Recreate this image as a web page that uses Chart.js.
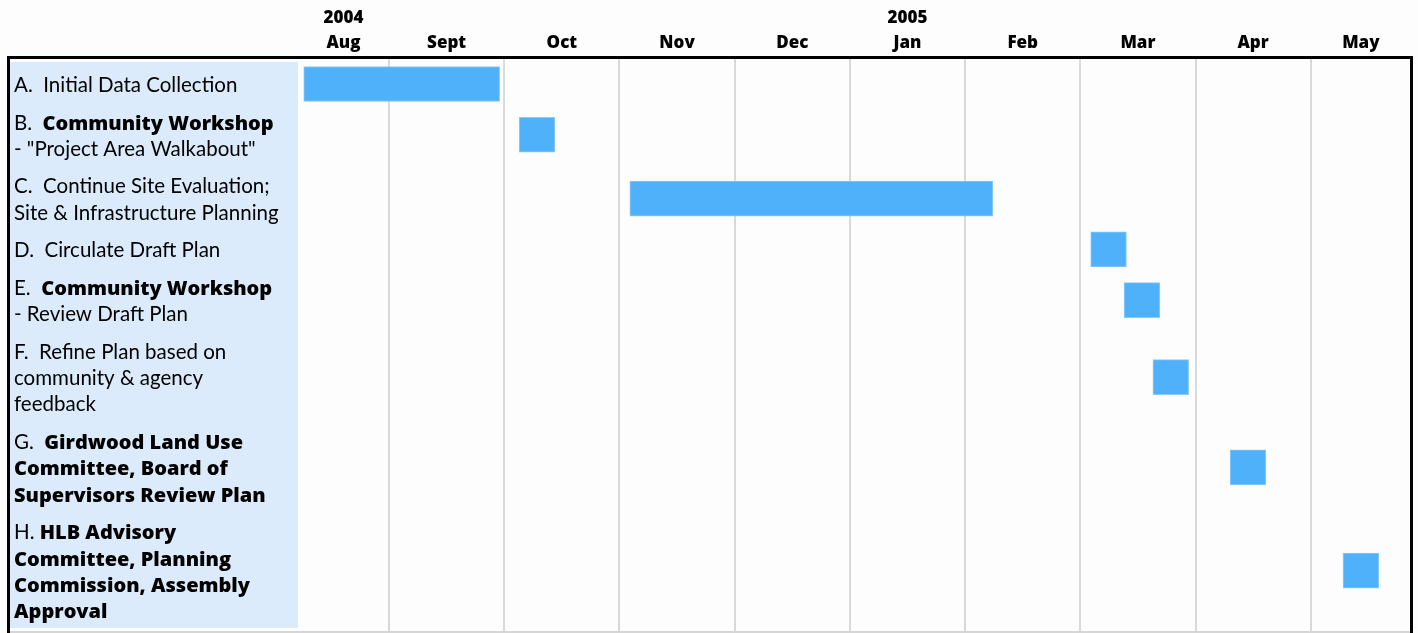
<!DOCTYPE html>
<html>
<head>
<meta charset="utf-8">
<script src="https://cdn.jsdelivr.net/npm/chart.js@4.4.1/dist/chart.umd.min.js"></script>
<style>
  html, body { margin: 0; padding: 0; background: #fdfdfd; }
  #gantt { display: block; }
</style>
</head>
<body>
<canvas id="gantt" width="1418" height="633"></canvas>
<script>
// month columns, Aug 2004 .. May 2005
const months = ['Aug', 'Sept', 'Oct', 'Nov', 'Dec', 'Jan', 'Feb', 'Mar', 'Apr', 'May'];
const years = ['2004', '', '', '', '', '2005', '', '', '', ''];

// task labels, one entry per line, *...* = bold
const taskLines = [
  ['A.  Initial Data Collection'],
  ['B.  *Community Workshop*', '- "Project Area Walkabout"'],
  ['C.  Continue Site Evaluation;', 'Site & Infrastructure Planning'],
  ['D.  Circulate Draft Plan'],
  ['E.  *Community Workshop*', '- Review Draft Plan'],
  ['F.  Refine Plan based on', 'community & agency', 'feedback'],
  ['G.  *Girdwood Land Use*', '*Committee, Board of*', '*Supervisors Review Plan*'],
  ['H. *HLB Advisory*', '*Committee, Planning*', '*Commission, Assembly*', '*Approval*']
];

// start / end in months counted from 1 Aug 2004
const taskStart = [0.26, 2.13, 3.09, 7.09, 7.38, 7.63, 8.30, 9.28];
const taskEnd   = [1.96, 2.44, 6.24, 7.40, 7.69, 7.94, 8.61, 9.59];

const X_MIN = 0.21, X_MAX = 9.87;   // visible part of the timeline
const ROW_GAP = 0.43;               // gap between rows, in text lines

// row layout in "text line" units
const rowTop = [];
let acc = 0;
taskLines.forEach(lines => { rowTop.push(acc); acc += lines.length + ROW_GAP; });
const rowCenter = taskLines.map((l, i) => rowTop[i] + (l.length + ROW_GAP) / 2);
const totalRows = acc;

function drawRich(ctx, text, x, y) {
  const parts = text.split('*');
  parts.forEach((p, i) => {
    if (!p) return;
    ctx.font = i % 2 ? '800 20px "Open Sans", sans-serif' : '400 20.5px "Lato", "Open Sans", sans-serif';
    ctx.fillText(p, x, y);
    x += ctx.measureText(p).width;
  });
}

const ganttDecor = {
  id: 'ganttDecor',
  beforeDraw(chart) {
    const { ctx, chartArea } = chart;
    ctx.save();
    ctx.fillStyle = '#fdfdfd';
    ctx.fillRect(0, 0, chart.width, chart.height);
    ctx.fillStyle = '#dcebfb';
    ctx.fillRect(10, chartArea.top + 3, chartArea.left - 10, chartArea.bottom - chartArea.top - 6);
    ctx.restore();
  },
  afterDraw(chart) {
    const { ctx, chartArea } = chart;
    const y = chart.scales.y;
    ctx.save();
    // task labels
    ctx.fillStyle = '#000';
    ctx.textBaseline = 'alphabetic';
    taskLines.forEach((lines, i) => {
      lines.forEach((line, k) => {
        const py = y.getPixelForValue(rowTop[i] + ROW_GAP / 2 + 0.5 + k);
        drawRich(ctx, line, 14, py + 8);
      });
    });
    // frame
    ctx.strokeStyle = '#d6d6d6';
    ctx.lineWidth = 2;
    ctx.beginPath();
    ctx.moveTo(8, chartArea.bottom + 1);
    ctx.lineTo(chartArea.right, chartArea.bottom + 1);
    ctx.stroke();
    ctx.strokeStyle = '#000';
    ctx.lineWidth = 3;
    ctx.beginPath();
    ctx.moveTo(7, chartArea.top - 1.5);
    ctx.lineTo(chartArea.right + 2, chartArea.top - 1.5);
    ctx.moveTo(8.5, chartArea.top - 3);
    ctx.lineTo(8.5, chart.height);
    ctx.moveTo(chartArea.right + 0.5, chartArea.top - 3);
    ctx.lineTo(chartArea.right + 0.5, chart.height);
    ctx.stroke();
    ctx.restore();
  }
};

new Chart(document.getElementById('gantt'), {
  type: 'bar',
  data: {
    datasets: [{
      data: taskStart.map((s, i) => ({ x: [s, taskEnd[i]], y: rowCenter[i] })),
      backgroundColor: '#50b1fb',
      borderColor: '#8cc8fb',
      borderWidth: 1,
      borderSkipped: false,
      barThickness: 35
    }]
  },
  options: {
    indexAxis: 'y',
    responsive: false,
    animation: false,
    devicePixelRatio: 1,
    layout: { padding: { left: 298, right: 7, top: 0, bottom: 2 } },
    plugins: { legend: { display: false }, tooltip: { enabled: false } },
    scales: {
      x: {
        type: 'linear',
        position: 'bottom',
        min: X_MIN,
        max: X_MAX,
        afterBuildTicks: s => { s.ticks = months.slice(1).map((m, i) => ({ value: i + 1 })); },
        ticks: { display: false },
        grid: { color: '#d9d9d9', lineWidth: 2, drawTicks: false },
        border: { display: false }
      },
      xTop: {
        type: 'linear',
        position: 'top',
        min: X_MIN,
        max: X_MAX,
        afterBuildTicks: s => {
          s.ticks = months.map((m, i) => ({ value: (Math.max(i, X_MIN) + Math.min(i + 1, X_MAX)) / 2 }));
        },
        afterFit: s => { s.height = 59; },
        ticks: {
          autoSkip: false,
          maxRotation: 0,
          padding: 3,
          color: '#000',
          font: { family: '"Open Sans", sans-serif', weight: '800', size: 17, lineHeight: 1.5 },
          callback: (v, i) => [years[i], months[i]]
        },
        grid: { display: false, drawTicks: false },
        border: { display: false }
      },
      y: {
        type: 'linear',
        reverse: true,
        offset: false,
        grace: 0,
        min: -0.235,
        max: totalRows + 0.08,
        display: false
      }
    }
  },
  plugins: [ganttDecor]
});
</script>
</body>
</html>
